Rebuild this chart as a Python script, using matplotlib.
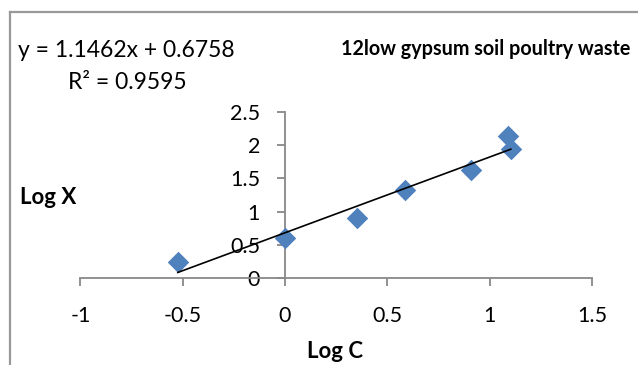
import numpy as np
import matplotlib.pyplot as plt
from matplotlib.lines import Line2D

log_c = [-0.524, 0.0, 0.353, 0.587, 0.909, 1.087, 1.103]
log_x = [0.24, 0.61, 0.90, 1.32, 1.62, 2.14, 1.94]
x_ticks = [-1, -0.5, 0, 0.5, 1, 1.5]
y_ticks = [0, 0.5, 1, 1.5, 2, 2.5]
x_tick_labels = ['-1', '-0.5', '0', '0.5', '1', '1.5']
y_tick_labels = ['0', '0.5', '1', '1.5', '2', '2.5']

plt.rcParams['font.family'] = ['Lato', 'DejaVu Sans']

fig = plt.figure(figsize=(6.38, 3.65), dpi=100)
ax = fig.add_axes([0.126, 0.2375, 0.802, 0.457])

ax.scatter(log_c, log_x, marker='D', s=120, color='#4F81BD', zorder=3, linewidths=0)

# linear trendline
slope, intercept = np.polyfit(log_c, log_x, 1)
xs = np.array([min(log_c), max(log_c)])
ax.plot(xs, slope * xs + intercept, color='black', lw=1.2, zorder=4)

ax.set_xlim(-1, 1.5)
ax.set_ylim(0, 2.5)
ax.set_xticks(x_ticks)
ax.set_xticklabels(x_tick_labels)
ax.set_yticks(y_ticks)
ax.set_yticklabels(y_tick_labels)

for s in ['top', 'right']:
    ax.spines[s].set_visible(False)
ax.spines['left'].set_position(('data', 0))
ax.spines['bottom'].set_position(('data', 0))
for s in ['left', 'bottom']:
    ax.spines[s].set_color('#888888')
    ax.spines[s].set_linewidth(1.3)
ax.tick_params(axis='both', colors='#888888', length=6, width=1.3, direction='out',
               labelsize=15.5, labelcolor='black')
ax.tick_params(axis='x', pad=14)
ax.tick_params(axis='y', pad=12)

fig.text(0.525, 0.037, 'Log C', fontsize=16, fontweight='bold', ha='center', va='center')
fig.text(0.032, 0.46, 'Log X', fontsize=16, fontweight='bold', ha='left', va='center')
fig.text(0.028, 0.863, 'y = 1.1462x + 0.6758', fontsize=16.5, ha='left', va='center')
fig.text(0.107, 0.775, 'R² = 0.9595', fontsize=16.5, ha='left', va='center')
fig.text(0.988, 0.866, '12low gypsum soil poultry waste', fontsize=14.2, fontweight='bold',
         ha='right', va='center')

# chart area border (left and top edges visible)
fig.add_artist(Line2D([10 / 638, 10 / 638], [0, 1 - 11.7 / 365], transform=fig.transFigure,
                      color='#999999', lw=1.6))
fig.add_artist(Line2D([10 / 638, 1], [1 - 11.7 / 365, 1 - 11.7 / 365], transform=fig.transFigure,
                      color='#999999', lw=1.6))

fig.savefig('out.png', dpi=100)
